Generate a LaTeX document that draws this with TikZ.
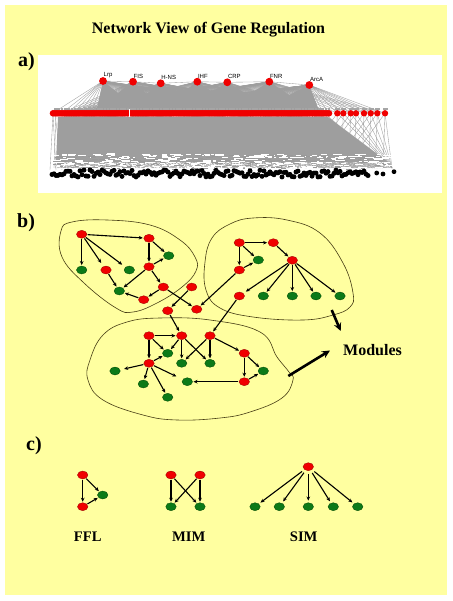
\documentclass[tikz,border=0pt]{standalone}
\usepackage{fontspec}
\setmainfont{Liberation Serif}
\newfontfamily\lsans{Liberation Sans}
\usetikzlibrary{arrows.meta,shapes.geometric}
\definecolor{bgyellow}{RGB}{255,255,160}
\definecolor{nred}{RGB}{240,0,0}
\definecolor{nredd}{RGB}{150,0,0}
\definecolor{ngreen}{RGB}{12,122,24}
\definecolor{ngreend}{RGB}{0,70,0}
\definecolor{egray}{RGB}{158,158,158}
\definecolor{blobc}{RGB}{70,60,20}
\begin{document}
\begin{tikzpicture}[x=1pt,y=-1pt,
 rn/.style={ellipse,fill=nred,draw=nredd,line width=0.3pt,minimum width=10.5pt,minimum height=8pt,inner sep=0pt},
 gn/.style={rn,fill=ngreen,draw=ngreend},
 arr/.style={-{Stealth[length=4pt,width=3.6pt]},line width=1.1pt,shorten >=0.8pt,shorten <=0.5pt},
 bigarr/.style={-{Stealth[length=8pt,width=7.5pt]},line width=2.6pt},
 modline/.style={draw=blobc,line width=0.6pt},
 bold16/.style={font=\fontsize{16}{18}\selectfont\bfseries,inner sep=0pt},
 bold15/.style={font=\fontsize{14.6}{17}\selectfont\bfseries,inner sep=0pt},
 panlab/.style={font=\fontsize{20}{22}\selectfont\bfseries,inner sep=0pt,anchor=base west},
 hublab/.style={font=\lsans\fontsize{6}{6}\selectfont,inner sep=0pt,anchor=south west},
 gedge/.style={egray,line width=0.35pt}
]
\useasboundingbox (0,0) rectangle (452,601);
\fill[white] (0,0) rectangle (452,601);
\fill[bgyellow] (5,5) rectangle (447,595);

% title and panel labels
\node[bold16,anchor=base] (title) at (208.5,33.5) {Network View of Gene Regulation};
\node[panlab] (la) at (18,67) {a)};
\node[panlab] (lb) at (17,228) {b)};
\node[panlab] (lc) at (26,450) {c)};

% ---------------- panel a ----------------
\fill[white] (38,55) rectangle (442,193);
\begin{scope}
\clip (38,55) rectangle (442,193);
\pgfmathsetseed{4242}
% middle -> bottom mass
\fill[egray] (58,117) -- (328,117) -- (388,162) -- (56,162) -- cycle;
\foreach \i in {0,...,230} {
  \pgfmathsetmacro\sx{56+mod(\i*37,272)}
  \pgfmathsetmacro\tx{54+mod(\i*61,338)}
  \draw[gedge] (\sx,114) -- (\tx,168);
}
\foreach \t in {337.3,343.3,350.7,356,364,370.7,377.3,385} {
  \draw[gedge] (\t,113.3) -- (\t-2,168);
  \draw[gedge] (\t,113.3) -- (392,168);
  \draw[gedge] (\t,113.3) -- (\t-40,168);
}
\draw[gedge] (53,114) -- (50,170);
\draw[gedge] (53,114) -- (56,170);
\draw[gedge] (55,114) -- (62,170);
% hubs -> middle, dense core
\fill[egray] (103,81) -- (118,93) -- (133,81.7) -- (147,94) -- (160.7,83.3) -- (179,95) -- (197.3,81.7) -- (212,92) -- (227.3,82.3) -- (248,95) -- (269.3,81.7) -- (289,95) -- (309.3,85) -- (320,113) -- (96,113) -- cycle;
\foreach \hx/\hy in {103/81,133/81.7,160.7/83.3,197.3/81.7,227.3/82.3,269.3/81.7,309.3/85} {
  \foreach \k in {0,...,46} {
    \draw[gedge] (\hx,\hy) -- ({62+\k*5.8},113);
  }
}
\foreach \t in {337.3,343.3,350.7,356,364,370.7,377.3,385} {
  \draw[gedge] (309.3,85) -- (\t,113.3);
  \draw[gedge] (269.3,81.7) -- (\t,113.3);
}
\draw[gedge] (103,81) -- (53,113);
\draw[gedge] (103,81) -- (133,81.7) -- (160.7,83.3) -- (197.3,81.7) -- (227.3,82.3) -- (269.3,81.7) -- (309.3,85);
% label band above middle row
\draw[gray!70,line width=2pt,dash pattern=on 2.6pt off 0.7pt] (54,108.6) -- (330,108.6);
\foreach \t in {337.3,343.3,350.7,356,364,370.7,377.3,385} {
  \draw[gray!70,line width=2pt] (\t-2,108.6) -- (\t+3,108.6);
}
% middle red row
\foreach \i in {0,...,138} {
  \fill[nred] ({53+\i*2},113.3) circle[radius=3.3pt];
}
\draw[white,line width=0.5pt] (129.7,109.5) -- (129.7,117.5);
\foreach \t in {337.3,343.3,350.7,356,364,370.7,377.3,385} {
  \fill[nred] (\t,113.3) circle[radius=3.2pt];
}
% bottom label noise
\foreach \i in {0,...,300} {
  \pgfmathsetmacro\wx{52+335*rnd}
  \pgfmathsetmacro\wy{154+15*rnd}
  \pgfmathsetmacro\wl{3+6*rnd}
  \draw[white,line width=1.1pt] (\wx,\wy) -- ++(\wl,0);
}
\foreach \i in {0,...,150} {
  \pgfmathsetmacro\wx{52+335*rnd}
  \pgfmathsetmacro\wy{155+14*rnd}
  \pgfmathsetmacro\wl{2+5*rnd}
  \draw[gray!80,line width=0.6pt] (\wx,\wy) -- ++(\wl,0);
}
% bottom black row
\foreach \i in {0,...,158} {
  \pgfmathsetmacro\bx{52+\i*2}
  \pgfmathsetmacro\by{170+7*rnd}
  \fill[black] (\bx,\by) circle[radius=2.5pt];
}
\fill[black] (376.7,173) circle[radius=2.4pt];
\fill[black] (383,174) circle[radius=2.4pt];
\fill[black] (394,171.7) circle[radius=2.4pt];
% hubs
\foreach \hx/\hy/\nm in {103/81/Lrp,133/81.7/FIS,160.7/83.3/H-NS,197.3/81.7/IHF,227.3/82.3/CRP,269.3/81.7/FNR,309.3/85/ArcA} {
  \fill[nred] (\hx,\hy) circle[radius=3.9pt];
  \node[hublab] at (\hx+0.5,\hy-3.3) {\nm};
}
\end{scope}

% ---------------- panel b ----------------
\draw[modline] plot[smooth cycle,tension=0.7] coordinates {(61,231) (72,222) (107,220) (150,225) (180,240) (195,257) (196,271) (182,287) (157,303) (133,312) (116,308) (84,283) (62,257)};
\draw[modline] plot[smooth cycle,tension=0.7] coordinates {(205,262) (212,238) (230,224) (253,218) (287,220) (320,233) (343,263) (353,293) (350,307) (333,315) (303,320) (253,317) (220,308) (206,290)};
\draw[modline] plot[smooth cycle,tension=0.7] coordinates {(88,380) (90,360) (103,335) (127,322) (160,318) (210,320) (260,332) (277,357) (289,372) (293,380) (282,398) (250,412) (220,418) (177,420) (143,415) (103,400)};

% module 1
\node[rn] (a1) at (81.7,234.3) {};
\node[rn] (a2) at (149,238.3) {};
\node[gn] (a3) at (168.7,255.7) {};
\node[rn] (a4) at (149,266.7) {};
\node[gn] (a5) at (81.7,270) {};
\node[rn] (a6) at (106,270) {};
\node[gn] (a7) at (129.3,270) {};
\node[rn] (a8) at (163.3,287) {};
\node[gn] (a9) at (119.3,291) {};
\node[rn] (a10) at (143.7,299.7) {};
% between
\node[rn] (x1) at (191.7,287) {};
\node[rn] (x2) at (196.7,309.3) {};
\node[rn] (x3) at (167.7,310.7) {};
% module 2
\node[rn] (b1) at (239.3,242.7) {};
\node[rn] (b2) at (273.3,242.7) {};
\node[gn] (b3) at (258.3,260) {};
\node[rn] (b4) at (239.3,270) {};
\node[rn] (b5) at (292.3,260.3) {};
\node[rn] (b6) at (239.3,296) {};
\node[gn] (b7) at (263.3,296) {};
\node[gn] (b8) at (292.3,296) {};
\node[gn] (b9) at (316,296) {};
\node[gn] (b10) at (340,296) {};
% module 3
\node[rn] (c1) at (149,335.7) {};
\node[rn] (c2) at (181.7,335.7) {};
\node[rn] (c3) at (210,335.7) {};
\node[gn] (c4) at (167.7,353.3) {};
\node[gn] (c5) at (181.7,363.3) {};
\node[gn] (c6) at (210,363.3) {};
\node[rn] (c7) at (149,363.3) {};
\node[rn] (c8) at (244.3,353.3) {};
\node[gn] (c9) at (263.3,371) {};
\node[rn] (c10) at (244.3,381.7) {};
\node[gn] (c11) at (187.3,381.7) {};
\node[gn] (c12) at (115,371) {};
\node[gn] (c13) at (143.3,384) {};
\node[gn] (c14) at (167.7,397.3) {};

% module 1 edges
\draw[arr] (a1) -- (a2);
\draw[arr] (a1) -- (a5);
\draw[arr,shorten >=4pt] (a1) -- (a6);
\draw[arr,shorten >=4pt] (a1) -- (a7);
\draw[arr] (a2) -- (a3);
\draw[arr] (a2) -- (a4);
\draw[arr] (a4) -- (a3);
\draw[arr] (a4) -- (a9);
\draw[arr] (a4) -- (a8);
\draw[arr] (a6) -- (a9);
\draw[arr] (a10) -- (a9);
\draw[arr] (a8) -- (a10);
\draw[arr] (a8) -- (x2);
\draw[arr] (x1) -- (x3);
\draw[arr] (b4) -- (x2);
\draw[arr] (x3) -- (c2);
\draw[arr] (b6) -- (c3);
% module 2 edges
\draw[arr] (b1) -- (b2);
\draw[arr] (b1) -- (b3);
\draw[arr] (b1) -- (b4);
\draw[arr] (b4) -- (b3);
\draw[arr] (b2) -- (b5);
\draw[arr,shorten >=3pt] (b5) -- (b6);
\draw[arr] (b5) -- (b7);
\draw[arr] (b5) -- (b8);
\draw[arr] (b5) -- (b9);
\draw[arr] (b5) -- (b10);
% module 3 edges
\draw[arr] (c1) -- (c2);
\draw[arr] (c1) -- (c4);
\draw[arr] (c1) -- (c7);
\draw[arr] (c7) -- (c4);
\draw[arr] (c2) -- (c4);
\draw[arr] (c2) -- (c5);
\draw[arr] (c2) -- (c6);
\draw[arr] (c3) -- (c5);
\draw[arr] (c3) -- (c6);
\draw[arr] (c3) -- (c8);
\draw[arr] (c8) -- (c10);
\draw[arr] (c8) -- (c9);
\draw[arr] (c10) -- (c9);
\draw[arr] (c10) -- (c11);
\draw[arr,shorten >=4pt] (c7) -- (c12);
\draw[arr] (c7) -- (c13);
\draw[arr] (c7) -- (c14);
\draw[arr,shorten >=7pt] (c7) -- (c11);

% modules label and thick arrows
\node[bold16,anchor=base west] (modl) at (343,355.5) {Modules};
\coordinate (m2out) at (331.7,310);
\coordinate (m2end) at (340.7,331);
\coordinate (m3out) at (288.3,376);
\draw[bigarr] (m2out) -- (m2end);
\draw[bigarr] (m3out) -- (330,350.5);

% ---------------- panel c ----------------
\node[rn] (f1) at (82.7,475) {};
\node[rn] (f2) at (82.7,506.7) {};
\node[gn] (f3) at (102.7,495) {};
\draw[arr] (f1) -- (f2);
\draw[arr] (f1) -- (f3);
\draw[arr] (f2) -- (f3);

\node[rn] (m1) at (171,475) {};
\node[rn] (m2) at (200,475) {};
\node[gn] (m3) at (171,506.7) {};
\node[gn] (m4) at (200,506.7) {};
\draw[arr] (m1) -- (m3);
\draw[arr] (m1) -- (m4);
\draw[arr] (m2) -- (m3);
\draw[arr] (m2) -- (m4);

\node[rn] (s0) at (308.3,466.7) {};
\node[gn] (s1) at (255,506.7) {};
\node[gn] (s2) at (279.3,506.7) {};
\node[gn] (s3) at (308.3,506.7) {};
\node[gn] (s4) at (333.3,506.7) {};
\node[gn] (s5) at (357.7,506.7) {};
\foreach \s in {s1,s2,s3,s4,s5} {
  \draw[arr,shorten <=3pt,shorten >=2pt] (s0) -- (\s);
}

\node[bold15,anchor=base] (ffl) at (87.7,541) {FFL};
\node[bold15,anchor=base] (mim) at (188.8,541) {MIM};
\node[bold15,anchor=base] (sim) at (303.7,541) {SIM};
\end{tikzpicture}
\end{document}
